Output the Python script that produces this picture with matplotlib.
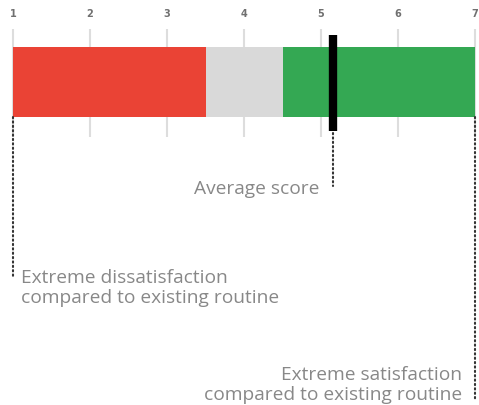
import matplotlib.pyplot as plt

# scale and segments
ticks = [1, 2, 3, 4, 5, 6, 7]
seg_starts = [1, 3.5, 4.5]
seg_widths = [2.5, 1.0, 2.5]
seg_colors = ['#ea4335', '#d9d9d9', '#34a853']
avg_score = 5.16

plt.rcParams['font.family'] = ['Open Sans', 'DejaVu Sans']

fig = plt.figure(figsize=(4.79, 4.06), dpi=100)
ax = fig.add_axes([0, 0, 1, 1])
# x in data units, y in pixels from the top
px = 77.0
ax.set_xlim(1 - 13 / px, 7 + 4 / px)
ax.set_ylim(406, 0)
ax.axis('off')

# grid lines and tick labels
ax.vlines(ticks, 30, 138, color='#dddddd', lw=1.5, zorder=1)
for t in ticks:
    ax.text(t, 14, str(t), ha='center', va='center', fontsize=7,
            fontweight='bold', color='#707070', family='DejaVu Sans')

# stacked bar
ax.barh(83, seg_widths, left=seg_starts, height=70, color=seg_colors,
        zorder=2)

# average marker
ax.vlines(avg_score, 36, 132, color='black', lw=6, zorder=3)

# dotted leader lines
dot = dict(color='#333333', lw=1.5, ls=(0, (0.6, 1.5)), zorder=3,
           dash_capstyle='round')
ax.plot([ticks[0], ticks[0]], [118, 277], **dot)
ax.plot([avg_score, avg_score], [134, 187], **dot)
ax.plot([ticks[-1], ticks[-1]], [118, 401], **dot)

txt = dict(fontsize=13.8, color='#888888', linespacing=1.12)
ax.text(avg_score - 14 / px, 189, 'Average score', ha='right', va='center',
        **txt)
ax.text(ticks[0] + 8 / px, 288, 'Extreme dissatisfaction\ncompared to existing routine',
        ha='left', va='center', **txt)
ax.text(ticks[-1] - 13 / px, 385, 'Extreme satisfaction\ncompared to existing routine',
        ha='right', va='center', multialignment='right', **txt)

fig.savefig('out.png', dpi=100)
